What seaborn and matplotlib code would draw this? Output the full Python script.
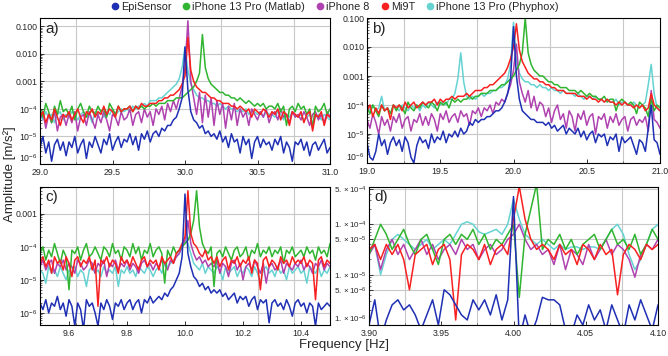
import matplotlib
matplotlib.use("Agg")
import matplotlib.pyplot as plt
import matplotlib.ticker as mticker
from matplotlib.lines import Line2D
import numpy as np
import pandas as pd
import seaborn as sns

sns.set_theme(style="white")
plt.rcParams["font.family"] = ["Liberation Sans", "DejaVu Sans"]
plt.rcParams["mathtext.fontset"] = "custom"
plt.rcParams["mathtext.rm"] = "Liberation Sans"
plt.rcParams["mathtext.it"] = "Liberation Sans:italic"

DEVICES = ["EpiSensor", "iPhone 13 Pro (Matlab)", "iPhone 8", "Mi9T", "iPhone 13 Pro (Phyphox)"]
COLORS = {
    "EpiSensor": "#1f30b4",
    "iPhone 13 Pro (Matlab)": "#30b530",
    "iPhone 8": "#b042b0",
    "Mi9T": "#f82020",
    "iPhone 13 Pro (Phyphox)": "#66d2d2",
}
# drawing order, last one on top
DRAW_ORDER = ["iPhone 13 Pro (Phyphox)", "iPhone 8", "iPhone 13 Pro (Matlab)", "Mi9T", "EpiSensor"]

# frequency bins [Hz] of each panel
freq_a = np.linspace(29.0, 31.0, 101)
freq_b = np.linspace(19.0, 21.0, 101)
freq_c = np.linspace(9.5, 10.5, 101)
freq_d = np.linspace(3.90, 4.10, 51)

# ---- panel a) values are log10 of amplitude [m/s^2] ----
a_epi = [-5.4, -5.0, -5.6, -5.2, -5.9, -5.3, -5.1, -5.5, -5.2, -5.7,
         -5.2, -5.4, -5.0, -5.6, -5.3, -5.1, -5.8, -5.2, -5.4, -5.0,
         -5.3, -5.6, -5.1, -5.3, -4.9, -5.5, -5.2, -5.0, -5.4, -5.1,
         -5.2, -4.9, -5.3, -5.0, -5.5, -4.9, -5.1, -4.8, -5.2, -4.9,
         -4.8, -5.0, -4.7, -4.8, -4.6, -4.6, -4.4, -4.3, -4.0, -3.6,
         -1.75, -3.3, -4.1, -4.4, -4.5, -4.7, -4.6, -4.9, -4.8, -5.0,
         -4.9, -5.1, -4.8, -5.2, -5.0, -5.4, -4.9, -5.2, -5.1, -5.6,
         -5.0, -5.3, -5.1, -5.8, -5.2, -5.0, -5.4, -5.1, -5.3, -5.2,
         -5.5, -5.1, -5.3, -5.0, -5.6, -5.2, -5.4, -5.9, -5.2, -5.3,
         -5.1, -5.5, -5.2, -5.7, -5.3, -5.2, -5.5, -5.3, -5.1, -5.6, -5.4]
a_matlab = [-4.0, -4.3, -3.8, -4.1, -4.5, -3.9, -4.2, -3.7, -4.1, -4.0,
            -4.2, -3.9, -4.4, -4.0, -3.8, -4.1, -4.3, -3.9, -4.1, -4.2,
            -3.9, -4.1, -4.0, -4.3, -3.8, -4.0, -4.2, -3.9, -4.1, -4.0,
            -4.0, -3.9, -4.1, -3.9, -4.0, -3.9, -4.0, -3.9, -3.9, -3.8,
            -3.9, -3.8, -3.8, -3.8, -3.7, -3.7, -3.7, -3.6, -3.6, -3.6,
            -3.5, -3.4, -3.3, -3.2, -3.0, -2.7, -1.3, -2.5, -2.9, -3.1,
            -3.2, -3.3, -3.4, -3.4, -3.5, -3.5, -3.6, -3.6, -3.7, -3.6,
            -3.7, -3.8, -3.7, -3.8, -3.9, -3.8, -3.9, -3.8, -4.0, -3.9,
            -3.9, -4.0, -3.8, -4.1, -3.9, -4.6, -4.0, -3.9, -4.1, -3.8,
            -4.0, -3.9, -4.2, -4.0, -4.7, -3.9, -4.1, -4.0, -3.8, -4.2, -4.0]
a_iphone8 = [-4.4, -4.1, -4.7, -4.2, -4.5, -4.1, -4.8, -4.3, -4.2, -4.6,
             -4.2, -4.5, -4.1, -4.8, -4.3, -4.2, -4.6, -4.1, -4.4, -4.7,
             -4.2, -4.5, -4.1, -4.4, -4.8, -4.2, -4.3, -4.6, -4.1, -4.4,
             -4.3, -4.0, -4.6, -4.2, -4.1, -4.5, -4.0, -4.3, -4.1, -4.6,
             -4.0, -4.2, -3.9, -4.4, -3.8, -4.1, -3.7, -4.0, -3.6, -3.2,
             -2.5, -0.8, -3.0, -3.6, -4.2, -3.4, -4.5, -3.5, -4.3, -3.6,
             -4.6, -3.7, -4.2, -3.8, -4.7, -3.9, -4.4, -3.8, -4.6, -4.0,
             -4.3, -4.1, -4.6, -4.0, -4.2, -4.4, -4.1, -4.3, -4.0, -4.5,
             -4.2, -4.1, -4.4, -4.0, -4.3, -4.2, -4.5, -4.1, -4.3, -4.2,
             -4.4, -4.1, -4.3, -4.6, -4.2, -4.1, -4.4, -4.2, -4.5, -4.1, -4.3]
a_mi9t = [-4.3, -4.1, -4.5, -4.2, -4.4, -4.0, -4.3, -4.6, -4.2, -4.3,
          -4.1, -4.4, -4.2, -4.0, -4.3, -4.5, -4.1, -4.2, -4.0, -4.3,
          -4.1, -4.2, -3.9, -4.2, -4.0, -4.1, -4.3, -3.9, -4.1, -4.0,
          -4.0, -3.9, -4.1, -3.9, -4.0, -3.8, -3.9, -3.9, -3.8, -3.8,
          -3.8, -3.7, -3.7, -3.6, -3.6, -3.5, -3.5, -3.4, -3.3, -3.1,
          -2.8, -1.4, -2.6, -3.0, -3.2, -3.3, -3.4, -3.4, -3.5, -3.6,
          -3.6, -3.7, -3.7, -3.8, -3.8, -3.8, -3.9, -3.9, -4.0, -3.9,
          -4.0, -4.1, -4.0, -4.3, -4.0, -4.1, -4.2, -4.0, -4.1, -4.3,
          -4.1, -4.2, -4.0, -4.4, -4.1, -4.2, -4.6, -4.1, -4.2, -4.3,
          -4.1, -4.5, -4.2, -4.1, -4.8, -4.2, -4.3, -4.1, -4.6, -4.2, -4.3]
a_phyphox = [-4.2, -4.4, -4.1, -4.3, -4.2, -4.5, -4.2, -4.1, -4.4, -4.2,
             -4.3, -4.1, -4.2, -4.4, -4.2, -4.1, -4.3, -4.2, -4.5, -4.1,
             -4.2, -4.1, -4.3, -4.1, -4.2, -4.0, -4.2, -4.1, -4.0, -4.1,
             -4.0, -4.1, -3.9, -4.0, -3.9, -3.9, -3.8, -3.9, -3.7, -3.7,
             -3.7, -3.6, -3.6, -3.5, -3.4, -3.3, -3.2, -3.1, -2.9, -2.5,
             -1.75, -2.6, -3.1, -3.3, -3.5, -3.6, -3.6, -3.7, -3.7, -3.8,
             -3.8, -3.9, -3.8, -3.9, -4.0, -3.9, -4.0, -4.0, -4.1, -4.0,
             -4.1, -4.0, -4.2, -4.1, -4.1, -4.2, -4.1, -4.3, -4.1, -4.2,
             -4.2, -4.3, -4.1, -4.2, -4.4, -4.2, -4.3, -4.1, -4.2, -4.3,
             -4.2, -4.4, -4.3, -4.2, -4.5, -4.3, -4.2, -4.4, -4.2, -4.3, -4.4]

# ---- panel b) ----
b_epi = [-5.3, -5.8, -5.9, -5.6, -5.0, -5.4, -5.2, -5.7, -5.3, -5.1,
         -5.4, -5.2, -5.6, -5.1, -5.3, -5.8, -6.0, -5.4, -5.1, -5.3,
         -5.2, -5.5, -5.0, -5.3, -5.1, -5.2, -4.9, -5.3, -5.0, -5.1,
         -4.9, -5.1, -4.8, -5.0, -4.9, -4.6, -4.7, -4.5, -4.6, -4.5,
         -4.5, -4.4, -4.4, -4.3, -4.2, -4.2, -4.1, -3.9, -3.6, -3.1,
         -1.3, -3.0, -3.8, -4.2, -4.3, -4.4, -4.5, -4.5, -4.6, -4.6,
         -4.6, -4.7, -4.6, -4.8, -4.7, -4.9, -4.8, -4.7, -5.0, -4.8,
         -4.9, -5.0, -4.8, -5.1, -4.9, -5.2, -5.0, -4.9, -5.3, -5.0,
         -5.1, -5.0, -5.4, -5.1, -5.2, -5.0, -5.6, -5.1, -5.3, -5.2,
         -5.1, -5.4, -5.7, -5.2, -5.3, -5.6, -4.8, -4.0, -5.2, -5.3, -5.7]
b_matlab = [-4.1, -4.3, -4.0, -4.2, -4.4, -4.0, -4.2, -4.1, -4.3, -4.0,
            -4.2, -4.0, -4.1, -4.3, -3.9, -4.1, -4.2, -4.0, -4.1, -3.9,
            -4.0, -4.1, -3.9, -4.0, -4.2, -3.9, -4.0, -3.9, -4.1, -3.8,
            -3.9, -3.8, -3.9, -3.8, -3.8, -3.7, -3.8, -3.7, -3.7, -3.6,
            -3.6, -3.6, -3.5, -3.5, -3.5, -3.4, -3.3, -3.3, -3.2, -3.1,
            -3.0, -2.8, -2.6, -2.2, -1.0, -2.2, -2.6, -2.8, -2.9, -3.0,
            -3.0, -3.1, -3.2, -3.2, -3.3, -3.3, -3.4, -3.4, -3.4, -3.5,
            -3.5, -3.5, -3.6, -3.5, -3.6, -3.7, -3.6, -3.7, -3.7, -3.8,
            -3.8, -3.7, -3.9, -3.8, -3.8, -4.2, -3.9, -3.8, -3.9, -4.0,
            -3.9, -4.0, -4.3, -3.9, -4.0, -4.1, -4.4, -3.8, -4.2, -4.0, -4.1]
b_iphone8 = [-4.5, -4.8, -4.3, -4.6, -5.0, -4.4, -4.7, -4.5, -4.9, -4.4,
             -4.6, -4.3, -4.8, -4.5, -4.4, -4.9, -4.5, -4.6, -4.3, -4.7,
             -4.4, -4.7, -4.3, -4.5, -4.9, -4.3, -4.5, -4.2, -4.6, -4.4,
             -4.3, -4.6, -4.2, -4.4, -4.3, -4.7, -4.2, -4.3, -4.1, -4.4,
             -4.1, -4.2, -4.0, -4.3, -3.9, -4.0, -3.8, -3.9, -3.6, -3.3,
             -2.8, -1.9, -3.2, -3.6, -3.9, -3.5, -4.1, -3.7, -4.2, -3.9,
             -4.0, -4.4, -4.1, -4.6, -4.2, -4.0, -4.5, -4.3, -4.8, -4.2,
             -4.4, -4.9, -4.3, -4.5, -4.2, -4.7, -4.4, -4.3, -5.0, -4.4,
             -4.5, -4.3, -4.8, -4.4, -4.6, -4.3, -4.7, -4.5, -4.4, -4.9,
             -4.5, -4.4, -4.7, -4.5, -4.6, -4.4, -4.9, -3.5, -4.5, -4.6, -4.8]
b_mi9t = [-4.2, -4.0, -4.4, -4.1, -4.3, -4.0, -4.2, -4.1, -4.5, -4.0,
          -4.1, -4.0, -4.2, -3.9, -4.1, -4.0, -3.9, -4.1, -4.0, -3.9,
          -4.0, -3.9, -3.9, -3.8, -4.0, -3.8, -3.9, -3.8, -3.8, -3.7,
          -3.8, -3.7, -3.7, -3.7, -3.6, -3.7, -3.6, -3.5, -3.5, -3.5,
          -3.4, -3.4, -3.3, -3.3, -3.2, -3.1, -3.0, -2.9, -2.7, -2.4,
          -2.0, -1.2, -2.1, -2.5, -2.7, -2.9, -3.0, -3.1, -3.1, -3.2,
          -3.2, -3.3, -3.3, -3.4, -3.4, -3.5, -3.5, -3.5, -3.6, -3.6,
          -3.6, -3.6, -3.7, -3.7, -3.7, -3.8, -3.7, -3.8, -3.8, -3.9,
          -3.8, -3.9, -3.8, -3.9, -3.9, -4.0, -3.9, -4.0, -3.9, -4.0,
          -4.0, -4.1, -4.0, -4.1, -4.0, -4.2, -4.1, -3.6, -4.0, -4.1, -4.2]
b_phyphox = [-4.1, -4.2, -4.0, -4.2, -4.1, -3.7, -4.2, -4.1, -4.3, -4.0,
             -4.1, -4.2, -4.0, -4.1, -4.2, -4.0, -4.1, -4.0, -4.2, -4.0,
             -4.1, -3.9, -4.0, -4.1, -3.9, -4.0, -3.9, -4.0, -3.8, -3.8,
             -3.6, -3.1, -2.2, -3.2, -3.7, -3.8, -3.7, -3.8, -3.7, -3.6,
             -3.7, -3.6, -3.6, -3.5, -3.5, -3.4, -3.4, -3.3, -3.1, -2.6,
             -1.15, -2.4, -2.9, -3.1, -3.2, -3.2, -3.3, -3.3, -3.4, -3.3,
             -3.4, -3.4, -3.5, -3.4, -3.5, -3.5, -3.6, -3.5, -3.6, -3.6,
             -3.6, -3.7, -3.6, -3.7, -3.8, -3.7, -3.7, -3.8, -3.7, -3.8,
             -3.8, -3.9, -3.8, -3.9, -3.9, -3.8, -4.0, -3.9, -3.9, -4.0,
             -4.0, -3.9, -4.0, -4.1, -4.0, -3.9, -3.3, -2.6, -3.6, -4.1, -4.2]

# ---- panel c) ----
c_epi = [-5.7, -5.9, -5.6, -6.0, -5.7, -5.8, -5.5, -5.9, -5.7, -6.1,
         -5.6, -5.8, -6.4, -5.7, -5.9, -6.5, -5.6, -5.8, -5.7, -6.0,
         -6.4, -5.7, -5.9, -5.6, -5.8, -6.2, -5.7, -5.8, -5.6, -5.9,
         -5.7, -5.6, -5.9, -5.7, -5.6, -6.0, -5.6, -5.7, -5.5, -5.7,
         -5.6, -5.5, -5.6, -5.4, -5.5, -5.3, -5.2, -5.0, -4.8, -4.3,
         -2.4, -4.2, -4.6, -4.9, -5.0, -5.2, -5.1, -5.3, -5.2, -5.4,
         -5.3, -5.4, -5.3, -5.5, -5.4, -5.6, -5.5, -5.4, -5.7, -5.5,
         -5.6, -5.5, -5.8, -5.6, -5.5, -5.9, -5.6, -5.7, -5.6, -6.3,
         -5.7, -5.6, -5.8, -5.7, -5.9, -5.6, -5.8, -6.1, -5.7, -5.6,
         -5.8, -5.7, -6.0, -5.7, -5.8, -6.4, -5.7, -5.9, -5.8, -5.7, -5.8]
c_matlab = [-4.2, -4.0, -4.4, -4.1, -4.3, -3.9, -4.2, -4.5, -4.1, -4.3,
            -5.3, -4.1, -4.2, -4.0, -4.4, -4.1, -3.9, -4.3, -4.2, -4.0,
            -4.2, -4.4, -4.0, -4.1, -4.3, -3.9, -4.2, -4.1, -4.4, -4.0,
            -4.1, -4.3, -3.9, -4.2, -4.0, -4.4, -4.1, -4.2, -3.9, -4.3,
            -4.1, -4.0, -4.2, -5.1, -4.1, -4.3, -4.0, -4.2, -4.1, -4.0,
            -3.9, -3.8, -3.6, -3.2, -2.3, -3.4, -3.9, -4.1, -4.2, -4.0,
            -5.2, -4.2, -4.1, -4.3, -4.0, -4.2, -4.4, -4.1, -4.0, -4.3,
            -4.2, -4.0, -4.4, -4.1, -4.2, -3.9, -4.3, -4.1, -4.2, -4.0,
            -4.3, -4.1, -4.2, -4.0, -4.5, -4.1, -4.2, -4.0, -4.3, -4.2,
            -4.1, -4.3, -4.0, -4.2, -4.1, -4.4, -4.0, -4.2, -4.1, -4.3, -3.9]
c_iphone8 = [-4.6, -4.4, -4.7, -4.5, -4.4, -4.8, -4.5, -4.6, -4.4, -4.7,
             -4.5, -4.6, -4.8, -4.4, -4.5, -4.7, -4.6, -4.4, -4.5, -4.8,
             -4.5, -4.6, -4.4, -4.9, -4.5, -4.6, -4.4, -4.7, -4.5, -4.6,
             -4.4, -4.7, -4.5, -4.6, -4.8, -4.5, -4.4, -4.6, -4.5, -4.7,
             -4.5, -4.6, -4.4, -4.5, -4.7, -4.4, -4.5, -4.3, -4.2, -4.0,
             -3.8, -3.2, -3.9, -4.2, -4.4, -4.3, -4.5, -4.4, -4.6, -4.5,
             -4.6, -4.4, -4.8, -4.5, -4.6, -4.9, -4.5, -4.4, -4.7, -4.5,
             -5.0, -4.6, -4.5, -4.7, -4.4, -4.6, -4.8, -4.5, -5.1, -4.6,
             -4.5, -4.7, -4.6, -4.4, -4.8, -4.5, -4.6, -4.7, -4.5, -4.6,
             -4.4, -4.7, -4.5, -4.6, -4.8, -4.5, -4.6, -4.4, -4.7, -4.5, -4.6]
c_mi9t = [-4.5, -4.3, -4.6, -4.4, -4.8, -4.3, -4.5, -4.4, -4.7, -4.3,
          -4.5, -4.9, -4.4, -4.3, -4.6, -4.4, -4.5, -4.3, -4.7, -4.4,
          -5.8, -4.4, -4.5, -4.3, -4.6, -4.4, -4.5, -4.8, -4.3, -4.5,
          -4.4, -4.6, -4.3, -4.5, -4.7, -4.4, -4.3, -4.6, -4.4, -4.5,
          -4.4, -4.7, -4.3, -4.5, -4.4, -4.3, -4.5, -4.2, -4.1, -3.9,
          -3.7, -2.3, -3.6, -3.9, -4.0, -4.2, -4.3, -4.1, -4.4, -4.3,
          -4.5, -4.3, -4.6, -4.4, -4.3, -4.7, -4.4, -4.5, -4.3, -4.6,
          -4.4, -4.5, -4.3, -4.8, -4.4, -4.5, -5.3, -4.4, -4.3, -4.6,
          -4.4, -4.5, -4.7, -4.3, -4.5, -4.4, -4.6, -4.3, -4.5, -4.4,
          -4.5, -4.3, -4.6, -4.4, -4.5, -5.6, -4.4, -4.3, -4.6, -4.4, -4.5]
c_phyphox = [-4.7, -4.8, -5.1, -4.6, -4.8, -4.7, -4.9, -4.6, -4.8, -5.0,
             -4.7, -4.8, -4.6, -4.9, -4.7, -4.8, -5.2, -4.7, -4.6, -4.8,
             -4.7, -4.9, -4.6, -4.8, -4.7, -4.8, -4.6, -5.2, -4.7, -4.8,
             -4.6, -4.8, -4.7, -4.9, -4.6, -4.7, -4.8, -4.6, -4.7, -4.9,
             -4.7, -4.6, -4.8, -4.5, -4.6, -4.5, -4.4, -4.3, -4.2, -4.0,
             -3.8, -3.9, -4.2, -4.5, -4.6, -4.7, -4.5, -4.8, -4.6, -4.7,
             -4.8, -4.6, -4.7, -5.0, -4.6, -4.8, -4.7, -4.6, -4.9, -4.7,
             -4.8, -4.6, -4.7, -4.9, -4.6, -4.8, -5.1, -4.7, -4.6, -4.8,
             -4.7, -4.9, -4.6, -4.8, -4.7, -5.0, -4.6, -4.8, -4.7, -4.6,
             -4.8, -4.7, -5.1, -4.6, -4.7, -4.8, -4.6, -4.9, -4.7, -4.8, -4.6]

# ---- panel d) ----
d_epi = [-6.0, -5.5, -6.3, -5.9, -5.6, -5.5, -5.7, -5.6, -5.8, -6.1,
         -5.8, -5.5, -6.0, -5.3, -5.4, -5.6, -5.8, -5.9, -5.5, -5.7,
         -5.5, -5.8, -5.4, -5.9, -5.5, -3.45, -6.3, -5.8, -6.2, -5.9,
         -5.45, -5.5, -5.5, -5.6, -6.1, -6.2, -5.8, -6.0, -5.6, -5.9,
         -5.7, -6.1, -5.6, -5.9, -6.2, -5.6, -5.9, -5.5, -5.8, -6.1, -5.6]
d_matlab = [-4.6, -4.3, -4.0, -4.2, -4.5, -4.3, -4.1, -4.4, -4.6, -4.3,
            -4.2, -4.5, -4.8, -4.3, -4.2, -4.4, -4.2, -4.3, -4.1, -4.4,
            -4.2, -4.5, -4.3, -4.4, -4.2, -4.0, -5.45, -4.2, -3.7, -3.2,
            -4.5, -4.3, -4.4, -4.2, -4.5, -4.3, -4.6, -4.4, -4.3, -4.2,
            -4.5, -4.3, -4.1, -4.4, -4.3, -4.5, -4.2, -4.6, -4.4, -4.1, -4.3]
d_iphone8 = [-4.6, -4.4, -4.9, -4.5, -4.3, -4.6, -4.4, -4.7, -4.5, -4.3,
             -4.6, -4.4, -4.7, -4.5, -4.4, -4.6, -4.3, -4.5, -4.4, -4.7,
             -4.5, -4.4, -4.6, -4.5, -4.3, -4.2, -4.0, -4.3, -4.5, -4.4,
             -4.6, -4.5, -4.8, -4.4, -4.9, -4.5, -4.6, -4.8, -4.4, -4.7,
             -4.5, -4.3, -4.6, -4.4, -4.5, -4.7, -5.05, -4.6, -4.4, -4.5, -4.3]
d_mi9t = [-4.5, -4.4, -4.7, -4.4, -4.6, -4.4, -4.7, -5.3, -4.6, -4.5,
          -4.4, -4.8, -4.5, -4.4, -4.7, -5.9, -4.6, -4.4, -4.5, -4.7,
          -4.4, -4.8, -4.5, -4.4, -4.6, -3.9, -3.25, -3.9, -4.3, -4.5,
          -4.4, -4.5, -4.7, -4.4, -4.6, -4.5, -4.8, -4.4, -4.5, -4.7,
          -4.4, -4.6, -4.5, -5.4, -4.6, -4.4, -4.5, -4.7, -4.4, -4.5, -4.4]
d_phyphox = [-4.6, -4.4, -5.0, -4.6, -4.3, -4.2, -4.3, -4.4, -4.5, -4.4,
             -4.3, -4.5, -4.4, -4.3, -4.4, -4.2, -4.0, -3.95, -4.0, -4.15,
             -4.2, -4.15, -4.1, -4.2, -4.0, -3.5, -3.9, -4.2, -4.3, -4.4,
             -4.3, -4.4, -4.5, -4.4, -4.5, -4.45, -4.45, -4.5, -4.45, -4.45,
             -4.5, -4.3, -4.1, -4.0, -4.2, -4.6, -4.9, -4.7, -4.4, -4.1, -4.0]

# y tick labels
LOG_LABELS = {1e-6: r"$10^{-6}$", 1e-5: r"$10^{-5}$", 1e-4: r"$10^{-4}$",
              1e-3: "0.001", 1e-2: "0.010", 1e-1: "0.100"}
D_TICKS = [1e-6, 5e-6, 1e-5, 5e-5, 1e-4, 5e-4]
D_LABELS = [r"$1.\times10^{-6}$", r"$5.\times10^{-6}$", r"$1.\times10^{-5}$",
            r"$5.\times10^{-5}$", r"$1.\times10^{-4}$", r"$5.\times10^{-4}$"]


def panel_frame(freq, logs_per_device):
    parts = []
    for name, logs in zip(DEVICES, logs_per_device):
        assert len(logs) == len(freq), name
        parts.append(pd.DataFrame({"freq": freq,
                                   "amp": 10.0 ** np.asarray(logs),
                                   "device": name}))
    return pd.concat(parts, ignore_index=True)


def draw_panel(ax, freq, logs, tag, xlim, xticks, xfmt, grid_step,
               ylim, yticks, ylabels):
    df = panel_frame(freq, logs)
    sns.lineplot(data=df, x="freq", y="amp", hue="device", hue_order=DRAW_ORDER,
                 palette=COLORS, estimator=None, linewidth=1.1, legend=False,
                 solid_joinstyle="round", ax=ax)
    ax.set_yscale("log")
    ax.set_xlim(*xlim)
    ax.set_ylim(*ylim)
    ax.set_xticks(xticks, [xfmt.format(t) for t in xticks])
    ax.xaxis.set_minor_locator(mticker.MultipleLocator(grid_step))
    ax.set_yticks(yticks, ylabels)
    ax.yaxis.set_minor_locator(mticker.LogLocator(base=10, subs=np.arange(2, 10)))
    ax.yaxis.set_minor_formatter(mticker.NullFormatter())
    ax.grid(False)
    ax.grid(True, which="minor", axis="x", color="#c8c8c8", lw=0.8)
    ax.grid(True, which="major", axis="y", color="#c8c8c8", lw=0.8)
    ax.set_axisbelow(True)
    ax.tick_params(which="both", direction="in", labelsize=6.3, pad=2,
                   left=True, bottom=True, color="#333333")
    ax.tick_params(axis="x", pad=3)
    ax.tick_params(which="major", length=3, width=0.7)
    ax.tick_params(which="minor", length=1.5, width=0.5)
    for sp in ax.spines.values():
        sp.set_color("black")
        sp.set_linewidth(0.8)
    ax.set_xlabel("")
    ax.set_ylabel("")
    # a label sitting on the bottom edge is lifted so it clears the x labels
    if np.isclose(yticks[0], ylim[0]):
        ax.get_yticklabels()[0].set_verticalalignment("bottom")
    ax.text(0.018, 0.975, tag, transform=ax.transAxes, ha="left", va="top",
            fontsize=11)


W, H = 668, 356
fig = plt.figure(figsize=(W / 100, H / 100), dpi=100)


def box(left, top, right, bottom):
    return [left / W, 1 - bottom / H, (right - left) / W, (bottom - top) / H]


ax_a = fig.add_axes(box(40, 18, 330, 164))
ax_b = fig.add_axes(box(367, 18, 660, 163))
ax_c = fig.add_axes(box(40, 187, 330, 325))
ax_d = fig.add_axes(box(369, 187, 658, 325))

dec = [1e-6, 1e-5, 1e-4, 1e-3, 1e-2, 1e-1]
draw_panel(ax_a, freq_a, [a_epi, a_matlab, a_iphone8, a_mi9t, a_phyphox], "a)",
           (29.0, 31.0), [29.0, 29.5, 30.0, 30.5, 31.0], "{:.1f}", 0.25,
           (1e-6, 0.2), dec, [LOG_LABELS[t] for t in dec])
draw_panel(ax_b, freq_b, [b_epi, b_matlab, b_iphone8, b_mi9t, b_phyphox], "b)",
           (19.0, 21.0), [19.0, 19.5, 20.0, 20.5, 21.0], "{:.1f}", 0.25,
           (1e-6, 0.1), dec, [LOG_LABELS[t] for t in dec])
dec_c = [1e-6, 1e-5, 1e-4, 1e-3]
draw_panel(ax_c, freq_c, [c_epi, c_matlab, c_iphone8, c_mi9t, c_phyphox], "c)",
           (9.5, 10.5), [9.6, 9.8, 10.0, 10.2, 10.4], "{:.1f}", 0.125,
           (4.3e-7, 6.5e-3), dec_c, [LOG_LABELS[t] for t in dec_c])
draw_panel(ax_d, freq_d, [d_epi, d_matlab, d_iphone8, d_mi9t, d_phyphox], "d)",
           (3.90, 4.10), [3.90, 3.95, 4.00, 4.05, 4.10], "{:.2f}", 0.025,
           (1e-6, 5.5e-4), D_TICKS, D_LABELS)
ax_d.tick_params(axis="y", labelsize=5.8)

handles = [Line2D([], [], ls="", marker="o", markersize=4.5, color=COLORS[d]) for d in DEVICES]
fig.legend(handles, DEVICES, loc="upper center", bbox_to_anchor=(0.5, 1.01), ncol=5,
           frameon=False, fontsize=7.8, handletextpad=0.05, columnspacing=0.9,
           borderaxespad=0.1, handlelength=1.0)

fig.text(0.014, 0.51, "Amplitude [m/s²]", rotation=90, ha="center", va="center", fontsize=9.5)
fig.text(0.515, 0.03, "Frequency [Hz]", ha="center", va="center", fontsize=9.5)

fig.savefig("out.png", dpi=100)
